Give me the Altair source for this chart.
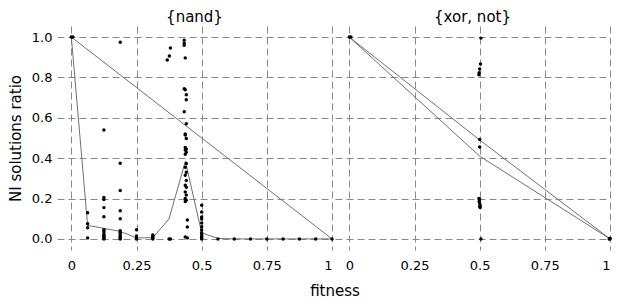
import altair as alt
import pandas as pd

FONT = "DejaVu Sans"
panels = ["{nand}", "{xor, not}"]

# ---- scatter points: panel {nand}
nand_x = [0, 0.006,
          0.0625, 0.0625, 0.0625, 0.0625,
          0.125, 0.125, 0.125, 0.125, 0.125, 0.125, 0.125, 0.125, 0.125, 0.125, 0.125, 0.125, 0.125,
          0.1875, 0.1875, 0.1875, 0.1875, 0.1875, 0.1875, 0.1875, 0.1875, 0.1875, 0.1875, 0.1875, 0.1875,
          0.25, 0.25, 0.25, 0.25,
          0.3125, 0.3125, 0.3125, 0.3125, 0.3125,
          0.375, 0.38, 0.368, 0.376, 0.38,
          0.433, 0.433, 0.433, 0.437, 0.433, 0.437, 0.441, 0.441, 0.433, 0.441, 0.437,
          0.437, 0.441, 0.437, 0.441, 0.437, 0.441, 0.437, 0.441, 0.437, 0.441, 0.437, 0.441,
          0.437, 0.441, 0.437, 0.441, 0.437, 0.441, 0.437, 0.445, 0.445, 0.437, 0.445,
          0.5, 0.5, 0.5, 0.5, 0.5, 0.5, 0.5, 0.5, 0.5, 0.5, 0.5, 0.5, 0.5,
          0.5625, 0.625, 0.6875, 0.75, 0.8125, 0.875, 0.9375, 1.0]
nand_y = [1.0, 1.0,
          0.13, 0.075, 0.055, 0.005,
          0.54, 0.205, 0.195, 0.155, 0.11, 0.045, 0.04, 0.03, 0.02, 0.015, 0.01, 0.005, 0.0,
          0.975, 0.375, 0.24, 0.14, 0.1, 0.04, 0.03, 0.025, 0.015, 0.01, 0.005, 0.0,
          0.045, 0.015, 0.005, 0.0,
          0.02, 0.015, 0.01, 0.005, 0.0,
          0.0, 0.0, 0.887, 0.906, 0.946,
          0.985, 0.97, 0.96, 0.897, 0.744, 0.739, 0.714, 0.69, 0.63, 0.571, 0.52,
          0.515, 0.497, 0.453, 0.445, 0.44, 0.43, 0.42, 0.374, 0.355, 0.33, 0.315, 0.29,
          0.266, 0.256, 0.232, 0.217, 0.2, 0.192, 0.185, 0.094, 0.059, 0.01, 0.005,
          0.167, 0.133, 0.108, 0.098, 0.079, 0.06, 0.044, 0.03, 0.02, 0.015, 0.01, 0.005, 0.0,
          0.0, 0.0, 0.0, 0.0, 0.0, 0.0, 0.0, 0.0]

# ---- scatter points: panel {xor, not}
xor_x = [0, 0.006,
         0.505, 0.503, 0.5, 0.498, 0.497, 0.5, 0.5,
         0.497, 0.5, 0.498, 0.5, 0.502, 0.5, 0.502, 0.505,
         1.0, 0.997, 1.0]
xor_y = [1.0, 1.0,
         0.995, 0.867, 0.842, 0.823, 0.813, 0.493, 0.455,
         0.2, 0.195, 0.185, 0.175, 0.165, 0.16, 0.155, 0.0,
         0.0, 0.0, 0.003]

# ---- lines
nand_line_a_x = [0, 1]
nand_line_a_y = [1.0, 0.0]
nand_line_b_x = [0, 0.0625, 0.1875, 0.25, 0.3125, 0.375, 0.4375, 0.5, 0.5625,
                 0.625, 0.6875, 0.75, 0.8125, 0.875, 0.9375, 1.0]
nand_line_b_y = [1.0, 0.067, 0.037, 0.005, 0.006, 0.1, 0.385, 0.03, 0.002,
                 0.0, 0.0, 0.0, 0.0, 0.0, 0.0, 0.0]
xor_line_a_x = [0, 0.5, 1]
xor_line_a_y = [1.0, 0.49, 0.0]
xor_line_b_x = [0, 0.5, 1]
xor_line_b_y = [1.0, 0.41, 0.0]

rows = []
for x, y in zip(nand_x, nand_y):
    rows.append(dict(panel=panels[0], fitness=x, ratio=y, kind="point", series="p"))
for x, y in zip(xor_x, xor_y):
    rows.append(dict(panel=panels[1], fitness=x, ratio=y, kind="point", series="p"))
for name, p, xs, ys in [("a", 0, nand_line_a_x, nand_line_a_y),
                        ("b", 0, nand_line_b_x, nand_line_b_y),
                        ("a", 1, xor_line_a_x, xor_line_a_y),
                        ("b", 1, xor_line_b_x, xor_line_b_y)]:
    for x, y in zip(xs, ys):
        rows.append(dict(panel=panels[p], fitness=x, ratio=y, kind="line", series=name))
df = pd.DataFrame(rows)

xenc = alt.X("fitness:Q",
             scale=alt.Scale(domain=[-0.055, 1.0], nice=False, zero=False),
             axis=alt.Axis(values=[0, 0.25, 0.5, 0.75, 1], format=".2~f", title=None,
                           labelPadding=9))
yenc = alt.Y("ratio:Q",
             scale=alt.Scale(domain=[-0.055, 1.055], nice=False, zero=False),
             axis=alt.Axis(values=[0, 0.2, 0.4, 0.6, 0.8, 1.0], format=".1f",
                           title="NI solutions ratio", labelPadding=5, titlePadding=8))

base = alt.Chart(df)
lines = base.transform_filter(alt.datum.kind == "line").mark_line(
    color="#707070", strokeWidth=1).encode(x=xenc, y=yenc, detail="series:N")
points = base.transform_filter(alt.datum.kind == "point").mark_circle(
    color="black", size=12, opacity=1).encode(x=xenc, y=yenc)

chart = alt.layer(lines, points).properties(width=275, height=224).facet(
    column=alt.Column("panel:N", sort=panels,
                      header=alt.Header(title="fitness", titleOrient="bottom",
                                        labelOrient="top", labelFont=FONT,
                                        labelFontSize=15, labelColor="black",
                                        labelPadding=1,
                                        titleFont=FONT, titleFontSize=15,
                                        titleFontWeight="normal", titleColor="black",
                                        titlePadding=2)),
    spacing=1
).properties(
    padding={"left": 0, "top": 2, "right": 0, "bottom": 0}
).configure_axis(
    grid=True, gridDash=[7, 4], gridColor="#888888", gridWidth=1,
    domain=False, ticks=False,
    labelFont=FONT, labelFontSize=13, labelColor="black",
    titleFont=FONT, titleFontSize=15, titleFontWeight="normal", titleColor="black"
).configure_view(strokeWidth=0)

chart.save("out.html", embed_options={"renderer": "svg", "actions": False})
